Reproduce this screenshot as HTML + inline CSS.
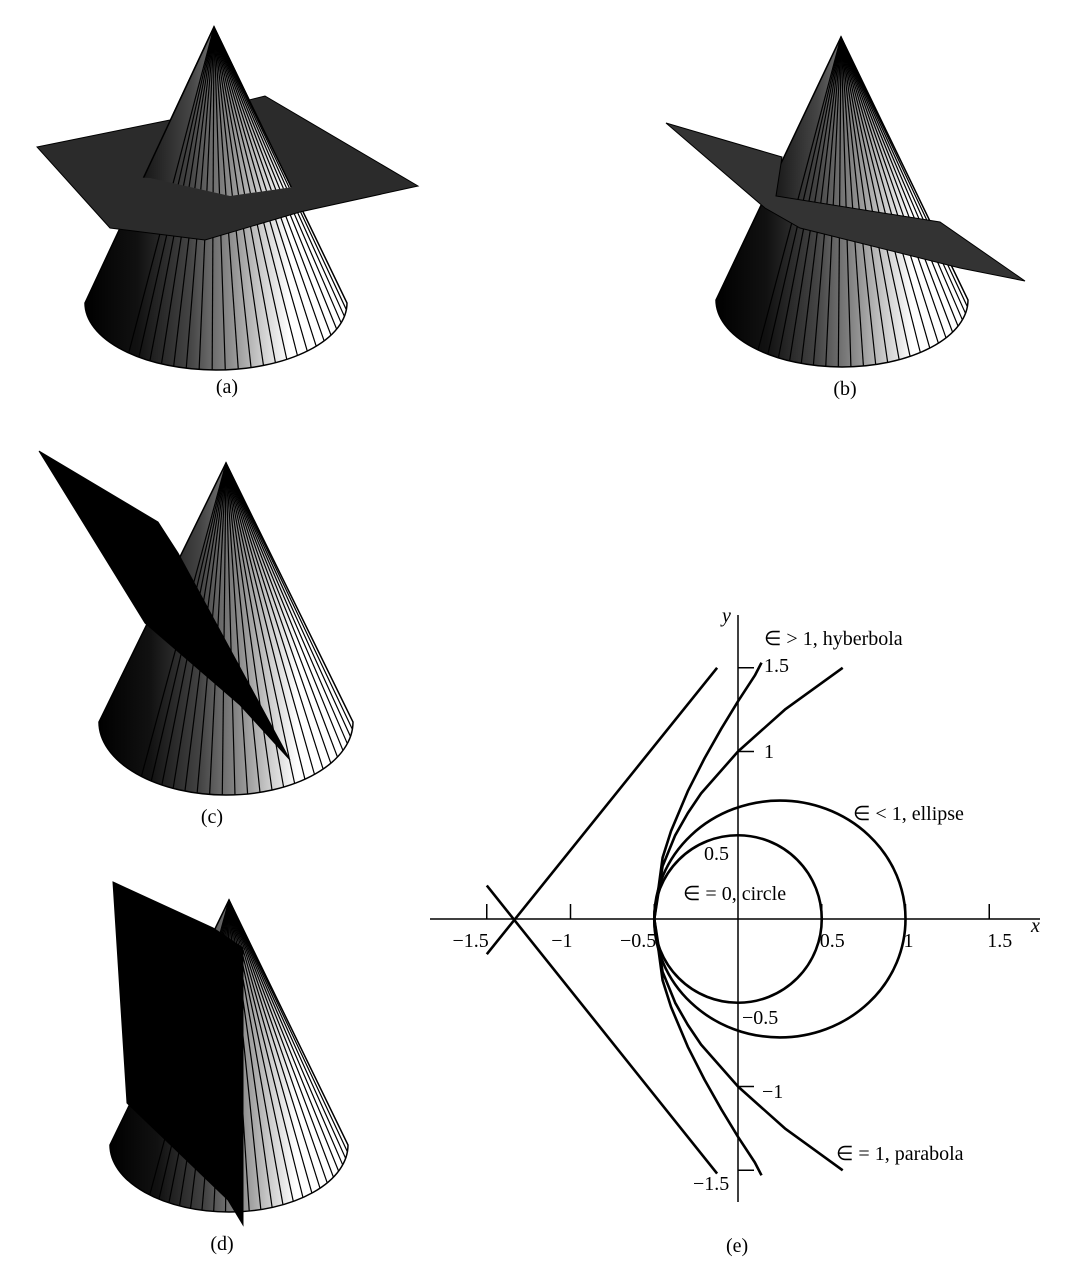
<!DOCTYPE html>
<html><head><meta charset="utf-8"><style>
html,body{margin:0;padding:0;background:#fff;}
svg{display:block;}
text{font-family:"Liberation Serif",serif;fill:#000;}
</style></head><body>
<svg id="fig" width="1071" height="1280" viewBox="0 0 1071 1280" xmlns="http://www.w3.org/2000/svg">
<defs>
<linearGradient id="coneGrad" x1="0" y1="0" x2="1" y2="0">
<stop offset="0" stop-color="#000"/><stop offset="0.2" stop-color="#111"/>
<stop offset="0.4" stop-color="#444"/><stop offset="0.55" stop-color="#8a8a8a"/>
<stop offset="0.68" stop-color="#d0d0d0"/><stop offset="0.78" stop-color="#fff"/><stop offset="1" stop-color="#fff"/>
</linearGradient>
<clipPath id="clipA"><polygon points="0,0 400,0 400,180 300,186 230,196 150,178 0,170"/></clipPath>
</defs>
<g id="cones"></g>
<g id="plot"></g>
</svg>
<script>
// ---- plot data (panel e) ----
const xTicks = [-1.5, -1, -0.5, 0.5, 1, 1.5];
const xTickLabels = ["\u22121.5", "\u22121", "\u22120.5", "0.5", "1", "1.5"];
const yTicks = [1.5, 1, -1, -1.5];
const circleRadius = [0.5];
const ellipseParams = [0.25, 0.75, 0.707]; // center x, semi-major, semi-minor
const parabolaX = [0.625, 0.28, 0, -0.22, -0.3, -0.375, -0.45, -0.5, -0.45, -0.375, -0.3, -0.22, 0, 0.28, 0.625];
const parabolaY = [1.5, 1.25, 1, 0.75, 0.632, 0.5, 0.316, 0, -0.316, -0.5, -0.632, -0.75, -1, -1.25, -1.5];
const hyperX = [0.14, 0.1, 0, -0.1, -0.2, -0.3, -0.4, -0.45, -0.5, -0.45, -0.4, -0.3, -0.2, -0.1, 0, 0.1, 0.14];
const hyperY = [1.53, 1.453, 1.3, 1.136, 0.959, 0.763, 0.525, 0.366, 0, -0.366, -0.525, -0.763, -0.959, -1.136, -1.3, -1.453, -1.53];
const asym1X = [-1.5, -0.125];
const asym1Y = [-0.21, 1.5];
const asym2X = [-1.5, -0.125];
const asym2Y = [0.2, -1.52];

const NS = "http://www.w3.org/2000/svg";
function mk(tag, attrs, parent){const e=document.createElementNS(NS,tag);for(const k in attrs)e.setAttribute(k,attrs[k]);parent.appendChild(e);return e;}
const OX=738, OY=919, S=167.5;
const sx=v=>OX+v*S, sy=v=>OY-v*S;
const plot=document.getElementById('plot');

let el;
el=mk('line',{x1:430,y1:OY,x2:1040,y2:OY,stroke:'#000','stroke-width':1.5},plot);


el=mk('line',{x1:OX,y1:615,x2:OX,y2:1202,stroke:'#000','stroke-width':1.5},plot);



xTicks.forEach((t,i)=>{
  const tk=mk('line',{x1:sx(t),y1:OY,x2:sx(t),y2:OY-15,stroke:'#000','stroke-width':1.5},plot);
  
  
  const neg=t<0;
  const lb=mk('text',{x:neg?sx(t)+2:sx(t)-2,y:OY+28,'font-size':20,'text-anchor':neg?'end':'start'},plot);
  lb.textContent=xTickLabels[i];
  
  
});
yTicks.forEach(t=>{
  const tk=mk('line',{x1:OX,y1:sy(t),x2:OX+16,y2:sy(t),stroke:'#000','stroke-width':1.5},plot);
  
  
});

function poly(xs,ys,name){
  const d=xs.map((x,i)=>(i?'L':'M')+sx(x).toFixed(1)+','+sy(ys[i]).toFixed(1)).join(' ');
  const p=mk('path',{d:d,fill:'none',stroke:'#000','stroke-width':2.6,'stroke-linejoin':'round'},plot);
  
  
}
el=mk('circle',{cx:sx(0),cy:sy(0),r:circleRadius[0]*S,fill:'none',stroke:'#000','stroke-width':2.6},plot);


el=mk('ellipse',{cx:sx(ellipseParams[0]),cy:sy(0),rx:ellipseParams[1]*S,ry:ellipseParams[2]*S,fill:'none',stroke:'#000','stroke-width':2.6},plot);


poly(parabolaX,parabolaY,'parabola-curve');
poly(hyperX,hyperY,'hyperbola-curve');
poly(asym1X,asym1Y,'hyperbola-asymptote-1');
poly(asym2X,asym2Y,'hyperbola-asymptote-2');

const labels=[
 ['y',722,622,'y-axis-title','italic'],
 ['x',1031,932,'x-axis-title','italic'],
 ['\u2208 > 1, hyberbola',764,645,'hyperbola-label',''],
 ['1.5',764,672,'y-tick-label',''],
 ['1',764,758,'y-tick-label',''],
 ['\u2208 < 1, ellipse',853,820,'ellipse-label',''],
 ['0.5',704,860,'y-tick-label',''],
 ['\u2208 = 0, circle',683,900,'circle-label',''],
 ['\u22120.5',742,1024,'y-tick-label',''],
 ['\u22121',762,1098,'y-tick-label',''],
 ['\u2208 = 1, parabola',836,1160,'parabola-label',''],
 ['\u22121.5',693,1190,'y-tick-label',''],
 ['(e)',726,1252,'panel-caption-e','']
];
labels.forEach(l=>{
  const t=mk('text',{x:l[1],y:l[2],'font-size':20},plot);
  if(l[4])t.setAttribute('font-style','italic');
  t.textContent=l[0];
  
  
});

// ---- cones ----
const cones=document.getElementById('cones');
function cone(g,ax,ay,cx,cy,rx,ry){
  const d=`M${ax},${ay} L${cx-rx},${cy} A${rx},${ry} 0 0 0 ${cx+rx},${cy} Z`;
  const b=mk('path',{d:d,fill:'url(#coneGrad)',stroke:'#000','stroke-width':1.5},g);
  
  
  for(let t=0.1;t<2.4;t+=0.1){
    const bx=cx+rx*Math.cos(t), by=cy+ry*Math.sin(t);
    const ln=mk('line',{x1:ax,y1:ay,x2:bx,y2:by,stroke:'#000','stroke-width':1.2},g);
    
    
  }
}
function plane(g,pts,fill){
  const p=mk('polygon',{points:pts,fill:fill,stroke:'#000','stroke-width':1},g);
  
  
}
function caption(g,txt,x,y,name){
  const t=mk('text',{x:x,y:y,'font-size':20,'text-anchor':'middle'},g);
  t.textContent=txt;
  
  
}
// (a)
let ga=mk('g',{},cones);


cone(ga,214,27,216,303,131,67);
plane(ga,'37,147 170,120 265,96 418,186 300,212 205,240 110,228','#2b2b2b');
let gtop=mk('g',{'clip-path':'url(#clipA)'},ga);
cone(gtop,214,27,216,303,131,67);
caption(ga,'(a)',227,393,'panel-caption-a');
// (b)
let gb=mk('g',{},cones);


cone(gb,841,37,842,300,126,67);
plane(gb,'666,123 782,157 776,196 940,222 1025,281 960,268 800,228 765,208','#333');
caption(gb,'(b)',845,395,'panel-caption-b');
// (c)
let gc=mk('g',{},cones);


cone(gc,226,463,226,722,127,73);
plane(gc,'39,451 158,522 178,553 290,760 240,705 145,623','#000');
caption(gc,'(c)',212,823,'panel-caption-c');
// (d)
let gd=mk('g',{},cones);


cone(gd,229,900,229,1145,119,67);
plane(gd,'113,882 213,928 243,948 243,1225 228,1200 127,1103','#000');
caption(gd,'(d)',222,1250,'panel-caption-d');
</script>
</body></html>
